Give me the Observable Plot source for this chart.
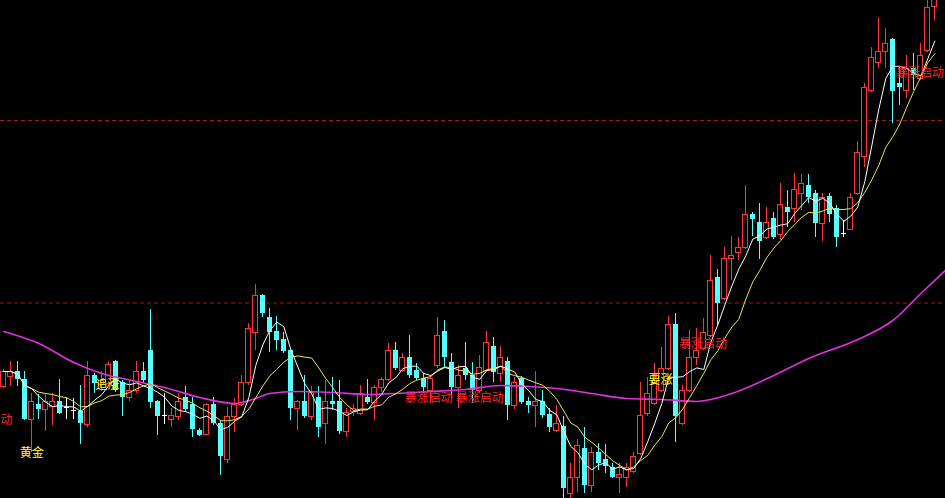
<!DOCTYPE html>
<html><head><meta charset="utf-8">
<script src="https://cdn.jsdelivr.net/npm/d3@7"></script>
<script src="https://cdn.jsdelivr.net/npm/@observablehq/plot@0.6"></script>
<style>html,body{margin:0;padding:0;background:#000;overflow:hidden}</style>
</head><body><div id="chart"></div>
<script>
// Daily OHLC (price units), one entry per trading day, index 0..133
const open = [4.28,4.48,4.58,4.42,3.62,3.92,3.82,3.88,3.98,3.86,3.80,3.78,3.52,4.50,4.32,4.34,4.78,4.36,4.06,4.20,
4.58,5.00,3.98,3.70,3.62,3.68,4.06,3.92,3.40,3.32,3.92,3.54,2.82,3.68,3.92,4.36,5.36,6.10,5.66,5.38,
5.22,5.00,3.84,3.98,3.68,4.06,3.54,3.98,3.98,3.38,3.78,3.74,4.06,3.96,4.26,4.42,5.00,4.60,4.86,4.60,
4.44,4.20,4.70,5.38,4.76,4.26,4.64,4.50,4.20,4.60,5.08,4.54,4.78,3.90,4.44,3.98,3.90,3.98,3.72,3.40,
3.48,2.14,2.46,3.04,2.30,2.96,2.82,2.66,2.46,2.46,2.58,2.94,3.74,3.94,4.20,4.64,5.52,3.54,4.20,4.86,
5.04,5.30,6.46,6.04,6.84,6.96,7.06,7.72,7.56,7.26,7.64,7.32,7.86,7.84,8.14,8.30,8.14,7.54,8.08,7.84,
7.34,7.42,8.14,8.88,10.20,10.76,10.98,11.22,10.34,10.20,10.64,10.44,11.00,11.88];
const high = [4.62,4.78,4.78,4.58,4.14,4.12,4.14,4.14,4.42,4.04,4.04,4.30,4.78,4.54,4.58,4.78,4.80,4.40,4.40,4.78,
4.76,5.82,4.00,4.14,3.84,4.14,4.28,4.06,3.44,3.94,4.06,3.60,3.86,4.04,4.50,5.54,6.32,6.12,5.84,5.68,
5.36,5.04,4.00,4.50,4.28,4.28,4.40,4.46,4.40,3.84,3.92,4.30,4.42,4.30,4.46,5.14,5.16,4.94,5.30,4.74,
4.54,4.48,5.66,5.60,4.94,4.70,5.16,4.76,4.90,5.38,5.26,5.08,4.86,4.46,4.48,4.06,4.58,4.20,3.84,3.90,
3.68,2.74,3.22,3.46,3.06,3.14,3.12,2.74,2.74,2.74,2.96,4.36,4.46,4.74,5.06,5.68,5.74,4.30,5.40,5.44,
5.64,6.90,6.62,7.06,7.28,7.26,8.30,7.76,7.94,7.86,7.76,8.34,8.20,8.54,8.52,8.52,8.20,8.14,8.14,7.90,
7.60,8.14,9.18,10.34,11.06,11.66,11.44,11.24,10.66,10.90,10.94,11.14,12.00,12.12];
const low = [4.24,4.28,4.28,3.60,2.96,3.62,3.38,3.50,3.72,3.62,3.62,3.12,3.46,4.14,4.18,4.28,4.16,3.68,3.98,4.14,
4.34,3.84,3.30,3.52,3.46,3.60,3.78,3.26,3.28,3.30,3.50,2.50,2.74,3.36,3.88,4.30,5.00,5.66,4.96,5.00,
4.94,3.60,3.40,3.64,3.60,3.26,3.12,3.80,3.32,3.26,3.68,3.70,3.92,3.60,4.16,4.38,4.60,4.56,4.44,4.40,
4.14,3.94,4.64,4.66,4.04,3.84,4.40,3.94,4.14,4.56,4.36,4.36,3.60,3.82,3.92,3.74,3.46,3.64,3.36,3.36,
2.04,2.04,2.16,2.14,2.16,2.60,2.54,2.44,2.14,2.26,2.54,2.90,3.68,3.90,4.16,4.60,3.16,3.50,4.16,4.70,
5.00,5.26,5.50,6.00,6.40,6.80,7.02,7.28,6.82,7.22,7.22,7.20,7.46,7.56,7.80,7.94,7.26,7.18,7.56,7.06,
7.26,7.40,8.10,8.66,10.16,10.64,10.64,9.54,9.90,10.04,10.20,10.40,10.96,11.60];
const close = [4.58,4.58,4.42,3.62,3.98,3.82,3.98,3.98,3.74,3.86,3.80,3.54,4.50,4.34,4.40,4.72,4.20,4.06,4.20,4.58,
4.40,3.96,3.68,3.70,3.70,3.98,3.82,3.42,3.30,3.92,3.54,2.88,3.68,3.92,4.36,5.44,6.10,5.74,5.36,5.20,
4.98,3.84,3.98,3.68,4.16,3.46,3.98,3.92,3.38,3.76,3.84,4.14,3.96,4.26,4.42,5.00,4.64,4.86,4.50,4.44,
4.26,4.44,5.30,4.86,4.26,4.50,4.50,4.20,4.66,5.16,4.56,4.86,3.90,4.36,3.96,3.90,3.98,3.70,3.46,3.54,
2.24,2.46,3.10,2.30,2.96,2.74,2.68,2.46,2.52,2.66,2.88,3.70,4.14,4.34,4.64,5.52,3.68,4.20,4.86,5.00,
5.36,6.40,5.94,6.84,6.90,7.06,7.72,7.62,7.18,7.56,7.26,7.92,7.76,8.22,8.34,8.06,7.54,8.06,7.72,7.26,
7.34,8.06,8.96,10.26,10.86,10.98,11.14,10.18,10.26,10.64,10.50,10.90,11.86,12.04];

const maLongDay = [0,5,10,14,19,24,28,33,36,38,42,47,52,56,61,66,71,75,79,84,89,94,99,101,104,110,115,122,127,131,134.5];
const maLongValue = [5.38,5.14,4.76,4.54,4.38,4.22,4.06,3.94,4.04,4.14,4.18,4.16,4.12,4.14,4.18,4.22,4.30,4.28,4.24,4.14,4.04,4.02,3.98,4.02,4.14,4.50,4.84,5.22,5.60,6.14,6.60];

// Signal labels
const labelText = ["暴涨启动","黄金","追涨","暴涨启动","暴涨启动","要涨","暴涨启动","暴涨启动"];
const labelDay = [-2.19,4,14.8,60.7,68,93.8,99.9,130.9];
const labelPrice = [3.60,2.94,4.30,4.04,4.04,4.40,5.12,10.54];
const labelKind = ["red","yellow","yellow","red","red","yellow","red","red"];

// Dashed reference price levels
const guideLevels = [9.6, 5.95];

const candles = open.map((o, i) => ({i, open: o, high: high[i], low: low[i], close: close[i]}));
const up = candles.filter(d => d.close > d.open);
const down = candles.filter(d => d.close < d.open);
const flat = candles.filter(d => d.close === d.open);
const maLong = maLongDay.map((i, k) => ({i, v: maLongValue[k]}));
const labels = labelText.map((t, k) => ({t, i: labelDay[k], p: labelPrice[k], kind: labelKind[k]}));

const UP = "#ff3434", DOWN = "#54ffff", FLAT = "#ffffff";
const half = 0.36;
const font = "'Noto Sans CJK SC', sans-serif";

const chart = Plot.plot({
  width: 945, height: 498, margin: 0,
  x: {type: "linear", domain: [-3.3 / 7, (945 - 3.3) / 7], axis: null},
  y: {type: "linear", domain: [2.04, 12], axis: null},
  style: {background: "#000", overflow: "hidden"},
  marks: [
    Plot.ruleY(guideLevels, {stroke: "#a01818", strokeDasharray: "4,3", strokeWidth: 1}),
    Plot.ruleX(up, {x: "i", y1: "low", y2: "high", stroke: UP, shapeRendering: "crispEdges"}),
    Plot.ruleX(down, {x: "i", y1: "low", y2: "high", stroke: DOWN, shapeRendering: "crispEdges"}),
    Plot.ruleX(flat, {x: "i", y1: "low", y2: "high", stroke: FLAT, shapeRendering: "crispEdges"}),
    Plot.rect(down, {x1: d => d.i - half, x2: d => d.i + half, y1: "open", y2: "close", fill: DOWN, shapeRendering: "crispEdges"}),
    Plot.rect(up, {x1: d => d.i - half, x2: d => d.i + half, y1: "open", y2: "close", fill: "#000", stroke: UP, strokeWidth: 1, shapeRendering: "crispEdges"}),
    Plot.ruleY(flat, {y: "close", x1: d => d.i - half, x2: d => d.i + half, stroke: FLAT, shapeRendering: "crispEdges"}),
    Plot.line(maLong, {x: "i", y: "v", stroke: "#e030e0", strokeWidth: 1.6, curve: "monotone-x"}),
    Plot.lineY(candles, Plot.windowY({k: 10, anchor: "end"}, {x: "i", y: "close", stroke: "#e8e850", strokeWidth: 1})),
    Plot.lineY(candles, Plot.windowY({k: 5, anchor: "end"}, {x: "i", y: "close", stroke: "#ffffff", strokeWidth: 1})),
    Plot.text(labels.filter(d => d.kind === "red"), {x: "i", y: "p", text: "t", fill: "#ff2828", fontSize: 12, fontFamily: font, textAnchor: "middle"}),
    Plot.text(labels.filter(d => d.kind === "yellow"), {x: "i", y: "p", text: "t", fill: "#ffff30", fontSize: 12, fontFamily: font, textAnchor: "middle"})
  ]
});
document.getElementById("chart").appendChild(chart);
</script>
</body></html>
